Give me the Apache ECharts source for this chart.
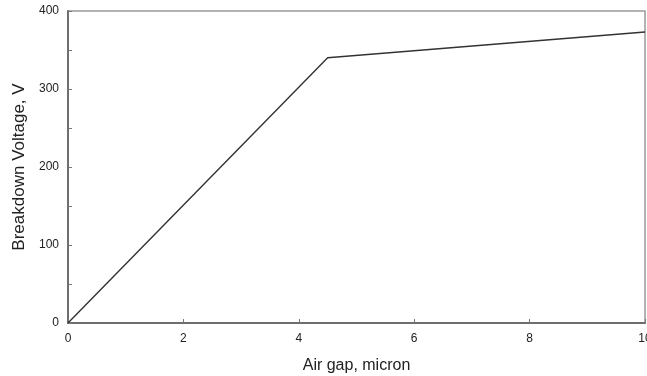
<!DOCTYPE html>
<html>
<head>
<meta charset="utf-8">
<script src="https://cdn.jsdelivr.net/npm/echarts@6/dist/echarts.min.js"></script>
<style>html,body{margin:0;padding:0;background:#fff}#c{width:647px;height:376px}</style>
</head>
<body>
<div id="c"></div>
<script>
const airGap = [0, 4.5, 10];
const breakdownVoltage = [0, 340, 373];
const xTicks = [0, 2, 4, 6, 8, 10];
const yTicks = [0, 100, 200, 300, 400];

const chart = echarts.init(document.getElementById('c'), null, {renderer: 'canvas'});
chart.setOption({
  animation: false,
  grid: {left: 68, right: 2, top: 11, bottom: 53, outerBoundsMode: 'none', containLabel: false,
    show: true, borderColor: '#9a9a9a', borderWidth: 1.5, backgroundColor: 'transparent'},
  xAxis: {
    type: 'value', min: 0, max: 10, interval: 2,
    name: 'Air gap, micron', nameLocation: 'middle', nameGap: 35,
    nameTextStyle: {fontFamily: 'Liberation Sans', fontSize: 16, color: '#222'},
    axisLine: {lineStyle: {color: '#6e6e6e', width: 2}},
    axisTick: {inside: true, length: 4, lineStyle: {color: '#777'}},
    axisLabel: {margin: 10, fontFamily: 'Liberation Sans', fontSize: 12, color: '#222',
      formatter: v => xTicks.includes(v) ? String(v) : ''},
    splitLine: {show: false}
  },
  yAxis: {
    type: 'value', min: 0, max: 400, interval: 50,
    name: 'Breakdown Voltage, V', nameLocation: 'middle', nameGap: 40,
    nameTextStyle: {fontFamily: 'Liberation Sans', fontSize: 17, color: '#222'},
    axisLine: {lineStyle: {color: '#6e6e6e', width: 2}},
    axisTick: {inside: true, length: 4, lineStyle: {color: '#777'}},
    axisLabel: {margin: 9, fontFamily: 'Liberation Sans', fontSize: 12, color: '#222',
      formatter: v => yTicks.includes(v) ? String(v) : ''},
    splitLine: {show: false}
  },
  series: [{
    type: 'line',
    data: airGap.map((x, i) => [x, breakdownVoltage[i]]),
    symbol: 'none',
    lineStyle: {color: '#333', width: 1.4}
  }]
});
</script>
</body>
</html>
